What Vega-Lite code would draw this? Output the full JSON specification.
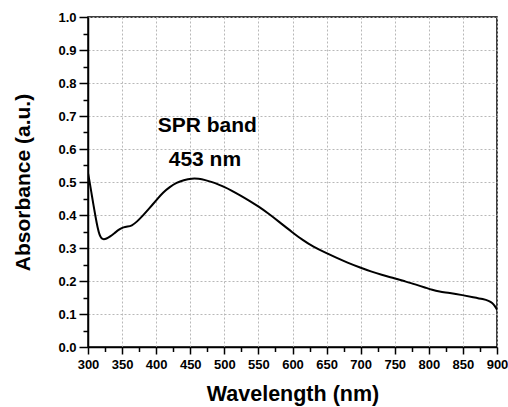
{
  "$schema": "https://vega.github.io/schema/vega-lite/v6.json",
  "width": 409,
  "height": 330,
  "autosize": "none",
  "padding": {"left": 88, "top": 17, "right": 11, "bottom": 60},
  "config": {
    "view": {"stroke": "black", "strokeWidth": 1.5},
    "font": "Liberation Sans"
  },
  "resolve": {"axis": {"x": "independent", "y": "independent"}},
  "layer": [
    {
      "data": {
        "values": [
          {"wl": 300, "abs": 0.527}, {"wl": 302, "abs": 0.505}, {"wl": 305, "abs": 0.468},
          {"wl": 308, "abs": 0.43}, {"wl": 311, "abs": 0.395}, {"wl": 314, "abs": 0.362},
          {"wl": 317, "abs": 0.338}, {"wl": 320, "abs": 0.328}, {"wl": 323, "abs": 0.326},
          {"wl": 327, "abs": 0.328}, {"wl": 332, "abs": 0.334}, {"wl": 340, "abs": 0.347},
          {"wl": 347, "abs": 0.358}, {"wl": 352, "abs": 0.363}, {"wl": 358, "abs": 0.365},
          {"wl": 364, "abs": 0.367}, {"wl": 372, "abs": 0.38}, {"wl": 380, "abs": 0.397},
          {"wl": 390, "abs": 0.42}, {"wl": 401, "abs": 0.447}, {"wl": 410, "abs": 0.468},
          {"wl": 420, "abs": 0.485}, {"wl": 430, "abs": 0.498}, {"wl": 440, "abs": 0.506},
          {"wl": 453, "abs": 0.511}, {"wl": 462, "abs": 0.51}, {"wl": 472, "abs": 0.506},
          {"wl": 482, "abs": 0.5}, {"wl": 492, "abs": 0.492}, {"wl": 500, "abs": 0.485},
          {"wl": 510, "abs": 0.475}, {"wl": 523, "abs": 0.46}, {"wl": 537, "abs": 0.443},
          {"wl": 550, "abs": 0.426}, {"wl": 565, "abs": 0.404}, {"wl": 580, "abs": 0.38},
          {"wl": 600, "abs": 0.347}, {"wl": 615, "abs": 0.324}, {"wl": 630, "abs": 0.304},
          {"wl": 650, "abs": 0.284}, {"wl": 665, "abs": 0.27}, {"wl": 680, "abs": 0.256},
          {"wl": 700, "abs": 0.24}, {"wl": 715, "abs": 0.229}, {"wl": 730, "abs": 0.219},
          {"wl": 750, "abs": 0.208}, {"wl": 765, "abs": 0.199}, {"wl": 780, "abs": 0.19},
          {"wl": 795, "abs": 0.18}, {"wl": 805, "abs": 0.173}, {"wl": 815, "abs": 0.168},
          {"wl": 830, "abs": 0.164}, {"wl": 850, "abs": 0.157}, {"wl": 865, "abs": 0.151},
          {"wl": 880, "abs": 0.145}, {"wl": 888, "abs": 0.14}, {"wl": 893, "abs": 0.134},
          {"wl": 897, "abs": 0.124}, {"wl": 900, "abs": 0.113}
        ]
      },
      "mark": {"type": "line", "color": "black", "strokeWidth": 2, "interpolate": "basis", "clip": true},
      "encoding": {
        "x": {
          "field": "wl", "type": "quantitative",
          "scale": {"domain": [300, 900], "nice": false, "zero": false},
          "axis": {
            "orient": "bottom",
            "values": [300, 350, 400, 450, 500, 550, 600, 650, 700, 750, 800, 850, 900],
            "title": "Wavelength (nm)",
            "titleFont": "Liberation Sans", "titleFontSize": 21.5, "titleFontWeight": "bold",
            "titleColor": "black", "titlePadding": 12,
            "labelFont": "Liberation Sans", "labelFontSize": 13, "labelFontWeight": "bold",
            "labelColor": "black", "labelPadding": 4, "labelFlush": false, "labelOverlap": false,
            "domainColor": "black", "domainWidth": 1.5,
            "tickColor": "black", "tickSize": 7, "tickWidth": 1.5,
            "grid": true, "gridColor": "#b8b8b8", "gridDash": [2, 2], "gridWidth": 1
          }
        },
        "y": {
          "field": "abs", "type": "quantitative",
          "scale": {"domain": [0, 1], "nice": false},
          "axis": {
            "orient": "left",
            "values": [0, 0.1, 0.2, 0.3, 0.4, 0.5, 0.6, 0.7, 0.8, 0.9, 1.0],
            "format": ".1f",
            "title": "Absorbance (a.u.)",
            "titleFont": "Liberation Sans", "titleFontSize": 21, "titleFontWeight": "bold",
            "titleColor": "black", "titlePadding": 24,
            "labelFont": "Liberation Sans", "labelFontSize": 13, "labelFontWeight": "bold",
            "labelColor": "black", "labelPadding": 3, "labelFlush": false, "labelOverlap": false,
            "domainColor": "black", "domainWidth": 1.5,
            "tickColor": "black", "tickSize": 9, "tickWidth": 1.5,
            "grid": true, "gridColor": "#b8b8b8", "gridDash": [2, 2], "gridWidth": 1
          }
        }
      }
    },
    {
      "data": {
        "values": [
          {"wl": 475, "abs": 0.652, "label": "SPR band"},
          {"wl": 471.5, "abs": 0.549, "label": "453 nm"}
        ]
      },
      "mark": {"type": "text", "font": "Liberation Sans", "fontSize": 21, "fontWeight": "bold", "color": "black", "baseline": "alphabetic", "align": "center"},
      "encoding": {
        "x": {
          "field": "wl", "type": "quantitative",
          "scale": {"domain": [300, 900], "nice": false, "zero": false},
          "axis": {
            "orient": "bottom",
            "values": [325, 375, 425, 475, 525, 575, 625, 675, 725, 775, 825, 875],
            "title": null, "labels": false, "domain": false, "grid": false,
            "tickColor": "black", "tickSize": 4.5, "tickWidth": 1.5
          }
        },
        "y": {
          "field": "abs", "type": "quantitative",
          "scale": {"domain": [0, 1], "nice": false},
          "axis": {
            "orient": "left",
            "values": [0.05, 0.15, 0.25, 0.35, 0.45, 0.55, 0.65, 0.75, 0.85, 0.95],
            "title": null, "labels": false, "domain": false, "grid": false,
            "tickColor": "black", "tickSize": 5, "tickWidth": 1.5
          }
        },
        "text": {"field": "label"}
      }
    }
  ]
}
